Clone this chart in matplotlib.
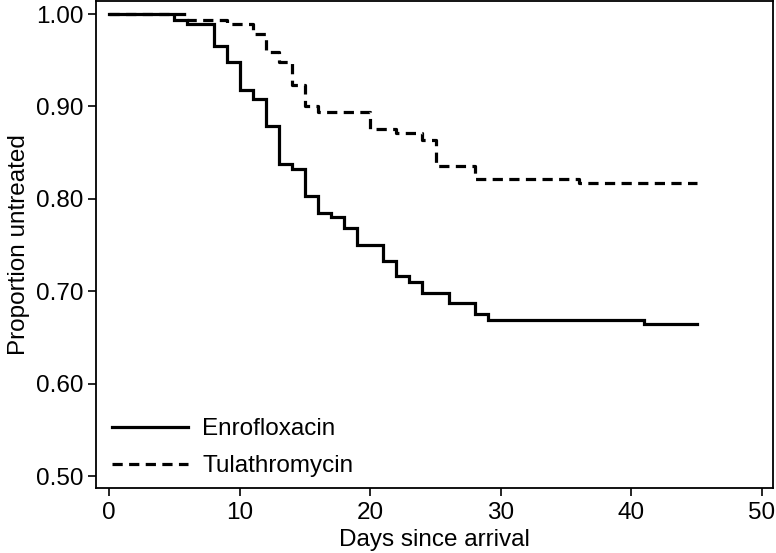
import matplotlib
matplotlib.use("Agg")
import matplotlib.pyplot as plt

plt.rcParams['font.family'] = ['Liberation Sans', 'DejaVu Sans']

# Kaplan-Meier style step data (day, proportion untreated)
enro_days = [0, 5, 6, 8, 9, 10, 11, 12, 13, 14, 15, 16, 17, 18, 19, 21, 22, 23, 24, 26, 28, 29, 41, 45]
enro_prop = [1.000, 0.994, 0.989, 0.965, 0.948, 0.918, 0.908, 0.879, 0.838, 0.832, 0.803, 0.785,
             0.780, 0.768, 0.750, 0.733, 0.716, 0.710, 0.698, 0.687, 0.675, 0.669, 0.664, 0.664]

tula_days = [0, 6, 9, 11, 12, 13, 14, 15, 16, 20, 22, 24, 25, 28, 36, 45]
tula_prop = [1.000, 0.994, 0.989, 0.978, 0.959, 0.948, 0.923, 0.900, 0.894, 0.876, 0.871, 0.864,
             0.835, 0.822, 0.817, 0.817]

yticks = [0.50, 0.60, 0.70, 0.80, 0.90, 1.00]
xticks = [0, 10, 20, 30, 40, 50]

fig = plt.figure(figsize=(7.76, 5.53), dpi=100)
ax = fig.add_axes([0.1237, 0.1175, 0.8724, 0.8805])

ax.plot(enro_days, enro_prop, drawstyle='steps-post', color='black', lw=2.3,
        label='Enrofloxacin', solid_joinstyle='miter')
ax.plot(tula_days, tula_prop, drawstyle='steps-post', color='black', lw=2.3,
        ls=(0, (3.2, 2.0)), label='Tulathromycin')

ax.set_xlim(-1.0, 50.84)
ax.set_ylim(0.487, 1.014)
ax.set_xticks(xticks)
ax.set_yticks(yticks)
ax.set_yticklabels(['%.2f' % v for v in yticks])
ax.tick_params(direction='out', length=6, width=1.2, labelsize=17.5, colors='black', pad=3)
ax.tick_params(axis='x', pad=4)
for s in ax.spines.values():
    s.set_linewidth(1.3)

ax.set_xlabel('Days since arrival', fontsize=17.5, labelpad=4)
ax.set_ylabel('Proportion untreated', fontsize=17.5, labelpad=4)

ax.legend(loc='lower left', frameon=False, fontsize=17.5, handlelength=3.1,
          handletextpad=0.6, labelspacing=0.6, borderaxespad=0.05,
          bbox_to_anchor=(0.008, 0.0))

fig.savefig('out.png', dpi=100)
